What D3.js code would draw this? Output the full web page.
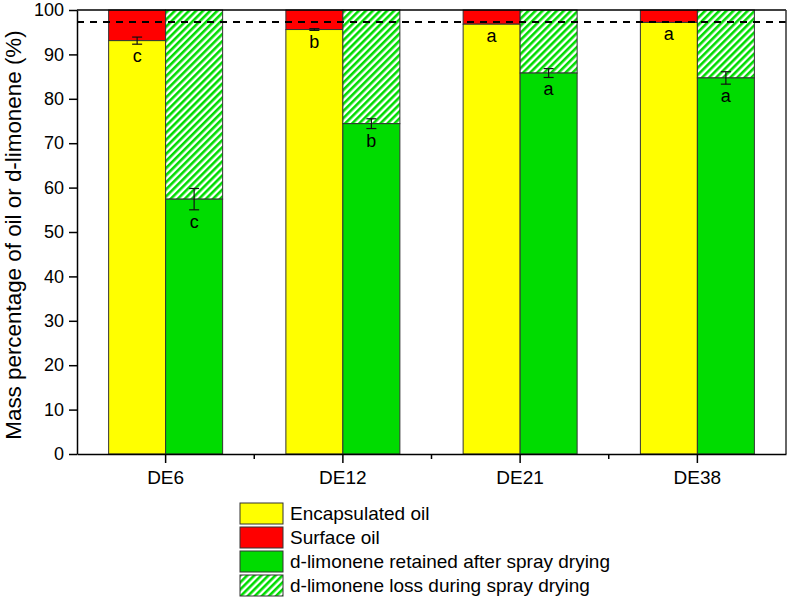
<!DOCTYPE html>
<html>
<head>
<meta charset="utf-8">
<script src="https://cdn.jsdelivr.net/npm/d3@7"></script>
<style>
body{margin:0;background:#fff;}
text{font-family:"Liberation Sans",Arial,sans-serif;}
</style>
</head>
<body>
<svg id="chart" width="790" height="600"></svg>
<script>
// data
var categories = ['DE6', 'DE12', 'DE21', 'DE38'];
var encapsulated = [93.1, 95.6, 96.8, 97.2];
var encapsulatedErr = [0.8, 0.2, 0, 0];
var retained = [57.4, 74.4, 85.8, 84.7];
var retainedErr = [2.4, 1.1, 1.0, 1.4];
var oilLetters = ['c', 'b', 'a', 'a'];
var limoneneLetters = ['c', 'b', 'a', 'a'];
var yTicks = [0, 10, 20, 30, 40, 50, 60, 70, 80, 90, 100];
var refLine = 97.3;
var legendLabels = ['Encapsulated oil', 'Surface oil', 'd-limonene retained after spray drying', 'd-limonene loss during spray drying'];

var YELLOW = '#ffff00', RED = '#ff0000', GREEN = '#00dc00';
var FONT = '"Liberation Sans",Arial,sans-serif';

// plot box (window.top is reserved, so own names)
var pLeft = 77, pRight = 786, pTop = 10, pBottom = 454;
var svg = d3.select('#chart');

var defs = svg.append('defs');
var pat = defs.append('pattern')
	.attr('id', 'hatch')
	.attr('patternUnits', 'userSpaceOnUse')
	.attr('width', 5).attr('height', 5)
	.attr('patternTransform', 'rotate(45)');
pat.append('rect').attr('width', 5).attr('height', 5).attr('fill', '#fff');
pat.append('rect').attr('width', 2.6).attr('height', 5).attr('fill', GREEN);

var x = d3.scaleBand().domain(categories).range([pLeft, pRight]);
var y = d3.scaleLinear().domain([0, 100]).range([pBottom, pTop]);
var barW = 57;

var g = svg.append('g');

categories.forEach(function(c, i){
	var cx = x(c) + x.bandwidth()/2;
	// oil bar: encapsulated + surface up to 100
	g.append('rect').attr('x', cx - barW).attr('y', y(100)).attr('width', barW)
		.attr('height', y(encapsulated[i]) - y(100)).attr('fill', RED).attr('stroke', '#333').attr('stroke-width', 1);
	g.append('rect').attr('x', cx - barW).attr('y', y(encapsulated[i])).attr('width', barW)
		.attr('height', y(0) - y(encapsulated[i])).attr('fill', YELLOW).attr('stroke', '#333').attr('stroke-width', 1);
	// limonene bar: retained + loss up to 100
	g.append('rect').attr('x', cx).attr('y', y(100)).attr('width', barW)
		.attr('height', y(retained[i]) - y(100)).attr('fill', 'url(#hatch)').attr('stroke', '#333').attr('stroke-width', 1);
	g.append('rect').attr('x', cx).attr('y', y(retained[i])).attr('width', barW)
		.attr('height', y(0) - y(retained[i])).attr('fill', GREEN).attr('stroke', '#333').attr('stroke-width', 1);
});

// error bars + letters
function errBar(cx, v, e, letter){
	if (e > 0){
		var eb = g.append('g').attr('stroke', '#111').attr('stroke-width', 1.2);
		eb.append('line').attr('x1', cx).attr('x2', cx).attr('y1', y(v + e)).attr('y2', y(v - e));
		eb.append('line').attr('x1', cx - 5).attr('x2', cx + 5).attr('y1', y(v + e)).attr('y2', y(v + e));
		eb.append('line').attr('x1', cx - 5).attr('x2', cx + 5).attr('y1', y(v - e)).attr('y2', y(v - e));
	}
	g.append('text').attr('x', cx).attr('y', y(v - e) + 18)
		.attr('text-anchor', 'middle').attr('font-size', 18).attr('fill', '#000').text(letter);
}
categories.forEach(function(c, i){
	var cx = x(c) + x.bandwidth()/2;
	errBar(cx - barW/2, encapsulated[i], encapsulatedErr[i], oilLetters[i]);
	errBar(cx + barW/2, retained[i], retainedErr[i], limoneneLetters[i]);
});

// dashed reference
svg.append('line').attr('x1', pLeft).attr('x2', pRight).attr('y1', y(refLine)).attr('y2', y(refLine))
	.attr('stroke', '#000').attr('stroke-width', 2).attr('stroke-dasharray', '7,6');

// frame
svg.append('line').attr('x1', pLeft).attr('x2', pRight).attr('y1', pTop).attr('y2', pTop).attr('stroke', '#000').attr('stroke-width', 1.5);
svg.append('line').attr('x1', pRight).attr('x2', pRight).attr('y1', pTop).attr('y2', pBottom).attr('stroke', '#333').attr('stroke-width', 1.5);

// y axis
var yAxis = svg.append('g').attr('transform', 'translate(' + pLeft + ',0)')
	.call(d3.axisLeft(y).tickValues(yTicks).tickSize(8).tickPadding(5).tickSizeOuter(0));
yAxis.selectAll('text').attr('font-size', 18).attr('font-family', FONT);
yAxis.selectAll('line,path').attr('stroke', '#000').attr('stroke-width', 1.5);

// x axis with minor ticks between groups
var xAxis = svg.append('g').attr('transform', 'translate(0,' + pBottom + ')')
	.call(d3.axisBottom(x).tickSize(9).tickPadding(8).tickSizeOuter(0));
xAxis.selectAll('text').attr('font-size', 19).attr('font-family', FONT);
xAxis.selectAll('line,path').attr('stroke', '#000').attr('stroke-width', 1.5);
categories.slice(1).forEach(function(c){
	svg.append('line').attr('x1', x(c)).attr('x2', x(c)).attr('y1', pBottom).attr('y2', pBottom + 5)
		.attr('stroke', '#000').attr('stroke-width', 1.5);
});

// y title
svg.append('text').attr('transform', 'translate(21,' + ((pTop + pBottom)/2 + 3) + ') rotate(-90)')
	.attr('text-anchor', 'middle').attr('font-size', 22.4).attr('fill', '#000')
	.text('Mass percentage of oil or d-limonene (%)');

// legend
var legFills = [YELLOW, RED, GREEN, 'url(#hatch)'];
var leg = svg.append('g').attr('transform', 'translate(240,503)');
legendLabels.forEach(function(t, i){
	leg.append('rect').attr('x', 0).attr('y', i*24).attr('width', 43).attr('height', 21)
		.attr('fill', legFills[i]).attr('stroke', '#333').attr('stroke-width', 1);
	leg.append('text').attr('x', 50).attr('y', i*24 + 17).attr('font-size', 19).attr('fill', '#000').text(t);
});
</script>
</body>
</html>
